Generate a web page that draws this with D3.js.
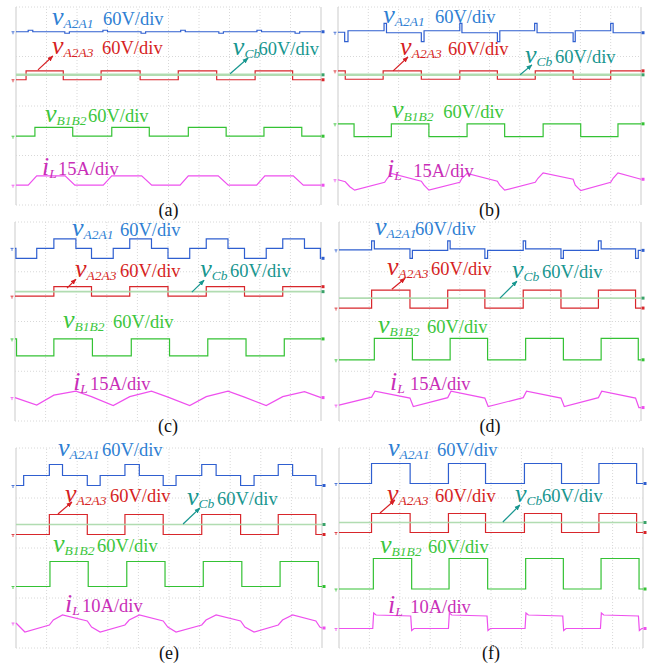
<!DOCTYPE html>
<html lang="en">
<head>
<meta charset="UTF-8">
<title>Waveforms</title>
<style>
  body { margin: 0; background: #fff; }
</style>
</head>
<body>
<script src="https://d3js.org/d3.v7.min.js"></script>
<script>
// time in divisions (0..10), level in divisions (0 = bottom grid line, 4 = top)

// ---- (a)
var aA2A1 = [[0,3.50],[0.3,3.50],[0.4,3.53],[0.55,3.50],[1.5,3.50],[1.6,3.47],[1.75,3.50],[2.75,3.50],[2.85,3.53],[3.0,3.50],[4.0,3.50],[4.1,3.47],[4.25,3.50],[5.3,3.50],[5.4,3.53],[5.55,3.50],[6.55,3.50],[6.65,3.47],[6.8,3.50],[7.8,3.50],[7.9,3.53],[8.05,3.50],[9.05,3.50],[9.15,3.47],[9.3,3.50],[10,3.50]];
var aA2A3 = [[0,2.53],[0.33,2.71],[1.55,2.53],[2.79,2.71],[4.07,2.53],[5.32,2.71],[6.58,2.53],[7.84,2.71],[9.07,2.53],[10,2.53]];
var aCb = [[0,2.63],[10,2.63]];
var aB1B2 = [[0,1.39],[0.62,1.57],[1.86,1.39],[3.14,1.57],[4.37,1.39],[5.65,1.57],[6.89,1.39],[8.13,1.57],[9.37,1.39],[10,1.39]];
var aIL = [[0,0.40],[0.40,0.40],[0.68,0.59],[1.61,0.59],[1.93,0.40],[2.86,0.40],[3.14,0.59],[4.12,0.59],[4.45,0.40],[5.38,0.40],[5.65,0.59],[6.63,0.59],[6.96,0.40],[7.89,0.40],[8.16,0.59],[9.09,0.59],[9.42,0.40],[10,0.40]];

// ---- (b)
var bA2A1 = [[0,3.49],[0.22,3.30],[0.33,3.52],[1.52,3.67],[1.60,3.48],[2.75,3.30],[2.84,3.52],[4.02,3.67],[4.09,3.48],[5.26,3.30],[5.34,3.52],[6.49,3.67],[6.57,3.48],[7.76,3.30],[7.83,3.52],[9.00,3.67],[9.08,3.48],[10,3.48]];
var bA2A3 = [[0,2.71],[0.24,2.54],[1.49,2.71],[2.75,2.54],[4.02,2.71],[5.26,2.54],[6.51,2.71],[7.76,2.54],[9.00,2.71],[10,2.71]];
var bCb = [[0,2.63],[10,2.63]];
var bB1B2 = [[0,1.64],[0.53,1.38],[1.76,1.64],[3.00,1.38],[4.26,1.64],[5.50,1.38],[6.77,1.64],[8.01,1.38],[9.24,1.64],[10,1.64]];
var bIL = [[0,0.51],[0.24,0.47],[0.39,0.37],[0.55,0.30],[1.54,0.46],[1.63,0.54],[1.76,0.64],[2.75,0.48],[2.84,0.40],[3.00,0.30],[4.02,0.46],[4.09,0.54],[4.26,0.64],[5.26,0.48],[5.34,0.40],[5.50,0.30],[6.51,0.46],[6.60,0.54],[6.77,0.65],[7.76,0.52],[7.83,0.40],[8.01,0.29],[9.00,0.46],[9.08,0.54],[9.24,0.65],[10,0.52]];

// ---- (c)
var cA2A1 = [[0,3.47],[0.03,3.27],[0.71,3.47],[1.27,3.66],[1.99,3.47],[2.50,3.27],[3.21,3.47],[3.75,3.66],[4.46,3.47],[5.00,3.27],[5.71,3.47],[6.25,3.66],[6.96,3.47],[7.50,3.27],[8.21,3.47],[8.75,3.66],[9.46,3.47],[9.98,3.27],[10,3.27]];
var cA2A3 = [[0,2.51],[1.27,2.70],[2.50,2.51],[3.75,2.70],[5.00,2.51],[6.25,2.70],[7.50,2.51],[8.75,2.70],[10,2.70]];
var cCb = [[0,2.60],[10,2.60]];
var cB1B2 = [[0,1.65],[0.05,1.31],[1.27,1.65],[2.53,1.31],[3.80,1.65],[5.05,1.31],[6.30,1.65],[7.55,1.31],[8.80,1.65],[10,1.65]];
var cIL = [[0,0.47],[0.71,0.32],[1.27,0.52],[1.99,0.60],[2.50,0.49],[3.21,0.31],[3.75,0.49],[4.46,0.60],[5.00,0.48],[5.71,0.31],[6.25,0.49],[6.96,0.60],[7.50,0.48],[8.21,0.31],[8.75,0.49],[9.46,0.59],[10,0.47]];

// ---- (d)
var dA2A1 = [[0,3.44],[1.08,3.62],[1.17,3.46],[2.35,3.27],[2.43,3.43],[3.60,3.62],[3.68,3.46],[4.83,3.27],[4.92,3.43],[6.10,3.62],[6.18,3.46],[7.35,3.27],[7.43,3.43],[8.59,3.62],[8.68,3.46],[9.82,3.27],[9.91,3.43],[10,3.43]];
var dA2A3 = [[0,2.27],[1.08,2.63],[2.35,2.27],[3.60,2.63],[4.83,2.27],[6.10,2.63],[7.35,2.27],[8.59,2.63],[9.82,2.27],[10,2.27]];
var dCb = [[0,2.47],[10,2.47]];
var dB1B2 = [[0,1.23],[1.17,1.66],[2.43,1.23],[3.68,1.66],[4.92,1.23],[6.18,1.66],[7.43,1.23],[8.68,1.66],[9.91,1.23],[10,1.23]];
var dIL = [[0,0.32],[1.08,0.48],[1.19,0.60],[2.35,0.46],[2.46,0.29],[3.60,0.47],[3.71,0.60],[4.83,0.46],[4.94,0.29],[6.10,0.47],[6.21,0.60],[7.35,0.46],[7.46,0.29],[8.59,0.47],[8.70,0.60],[9.82,0.46],[9.93,0.27],[10,0.27]];

// ---- (e)
var eA2A1 = [[0,3.25],[0.25,3.45],[1.09,3.67],[1.52,3.45],[2.33,3.25],[2.75,3.45],[3.56,3.67],[4.03,3.45],[4.81,3.25],[5.23,3.45],[6.07,3.67],[6.54,3.45],[7.34,3.25],[7.78,3.45],[8.57,3.67],[9.04,3.45],[9.80,3.25],[10,3.25]];
var eA2A3 = [[0,2.27],[1.09,2.67],[2.33,2.27],[3.56,2.67],[4.81,2.27],[6.07,2.67],[7.34,2.27],[8.57,2.67],[9.80,2.27],[10,2.27]];
var eCb = [[0,2.47],[10,2.47]];
var eB1B2 = [[0,1.23],[1.11,1.73],[2.36,1.23],[3.62,1.73],[4.87,1.23],[6.12,1.73],[7.38,1.23],[8.63,1.73],[9.88,1.23],[10,1.23]];
var eIL = [[0,0.50],[0.29,0.32],[1.09,0.46],[1.22,0.56],[1.52,0.66],[2.33,0.54],[2.47,0.42],[2.75,0.32],[3.56,0.46],[3.70,0.56],[4.03,0.66],[4.81,0.54],[4.96,0.42],[5.23,0.32],[6.07,0.46],[6.21,0.56],[6.54,0.66],[7.34,0.54],[7.48,0.42],[7.78,0.32],[8.57,0.46],[8.71,0.56],[9.04,0.66],[9.80,0.54],[9.93,0.42],[10,0.40]];

// ---- (f)
var fA2A1 = [[0,3.29],[1.07,3.69],[2.34,3.29],[3.60,3.69],[4.82,3.29],[6.10,3.69],[7.32,3.29],[8.55,3.69],[9.79,3.29],[10,3.29]];
var fA2A3 = [[0,2.31],[1.07,2.69],[2.34,2.31],[3.60,2.69],[4.82,2.31],[6.10,2.69],[7.32,2.31],[8.55,2.69],[9.79,2.31],[10,2.31]];
var fCb = [[0,2.51],[10,2.51]];
var fB1B2 = [[0,1.18],[1.13,1.79],[2.39,1.18],[3.62,1.79],[4.89,1.18],[6.14,1.79],[7.38,1.18],[8.62,1.79],[9.87,1.18],[10,1.18]];
var fIL = [[0,0.39],[1.11,0.39],[1.14,0.70],[1.22,0.66],[2.36,0.64],[2.39,0.35],[2.47,0.39],[3.60,0.39],[3.63,0.70],[3.71,0.66],[4.87,0.64],[4.90,0.35],[4.98,0.39],[6.12,0.39],[6.15,0.70],[6.23,0.66],[7.36,0.64],[7.39,0.35],[7.47,0.39],[8.60,0.39],[8.63,0.70],[8.71,0.66],[9.85,0.64],[9.88,0.35],[9.96,0.39],[10,0.39]];

var captions = ['(a)', '(b)', '(c)', '(d)', '(e)', '(f)'];
var scalesIL = ['15A/div', '15A/div', '15A/div', '15A/div', '10A/div', '10A/div'];

// ---- layout (label anchors in division units)
var notes = [
  { lab: [[1.18,3.64,2.85],[1.18,3.05,2.82],[7.11,3.03,7.95],[0.95,1.68,2.36],[0.85,0.61,1.38]],
    arr: [[0.72,2.73,1.21,3.01],[7.02,2.65,7.61,2.97]] },
  { lab: [[1.49,3.67,3.20],[2.05,3.03,3.63],[6.17,2.87,7.16],[1.78,1.76,3.47],[1.62,0.57,2.48]],
    arr: [[1.82,2.71,2.31,2.99],[6.01,2.63,6.40,2.83]] },
  { lab: [[1.86,3.72,3.43],[1.96,2.89,3.43],[6.05,2.89,7.03],[1.57,1.87,3.20],[1.90,0.62,2.45]],
    arr: [[1.70,2.67,1.99,2.85],[5.78,2.59,6.18,2.83]] },
  { lab: [[1.19,3.74,2.52],[1.59,2.93,3.05],[5.73,2.87,6.72],[1.29,1.77,2.91],[1.69,0.62,2.35]],
    arr: [[1.75,2.65,2.19,2.87],[5.33,2.47,5.89,2.81]] },
  { lab: [[1.37,3.84,2.81],[1.60,2.92,3.07],[5.59,2.86,6.57],[1.21,1.92,2.65],[1.60,0.72,2.16]],
    arr: [[1.37,2.68,1.83,2.92],[5.46,2.48,6.01,2.80]] },
  { lab: [[1.61,3.84,3.22],[1.58,2.92,3.16],[5.79,2.92,6.68],[1.35,1.90,2.93],[1.61,0.70,2.34]],
    arr: [[1.35,2.70,1.84,2.96],[5.39,2.52,5.95,2.86]] }
];

var boxes = [
  [16, 321, 7, 205], [338, 641, 7, 205],
  [15, 321, 222, 421], [339, 641, 222, 421],
  [16, 322, 448, 648], [339, 643, 448, 648]
];

var traces = [
  [aA2A1, aA2A3, aCb, aB1B2, aIL],
  [bA2A1, bA2A3, bCb, bB1B2, bIL],
  [cA2A1, cA2A3, cCb, cB1B2, cIL],
  [dA2A1, dA2A3, dCb, dB1B2, dIL],
  [eA2A1, eA2A3, eCb, eB1B2, eIL],
  [fA2A1, fA2A3, fCb, fB1B2, fIL]
];

var serif = 'Liberation Serif, Times New Roman, DejaVu Serif, serif';
var lineCol = ['#2f5fd0', '#d8262b', '#a8d8a8', '#34c234', '#ee50ee'];
var textCol = ['#2f7fd3', '#d61f24', '#17968f', '#3cc63c', '#c92fb8'];
var stepped = [true, true, false, true, false];

var svg = d3.select('body').append('svg').attr('width', 654).attr('height', 664)
  .style('display', 'block');

var defs = svg.append('defs');
['red', 'teal'].forEach(function (k, i) {
  defs.append('marker').attr('id', 'arr-' + k)
    .attr('viewBox', '0 0 10 10').attr('refX', 9).attr('refY', 5)
    .attr('markerWidth', 5).attr('markerHeight', 5).attr('orient', 'auto')
    .append('path').attr('d', 'M0,1 L10,5 L0,9 Z')
    .attr('fill', i == 0 ? textCol[1] : textCol[2]);
});

boxes.forEach(function (b, p) {
  var x = d3.scaleLinear().domain([0, 10]).range([b[0], b[1]]);
  var y = d3.scaleLinear().domain([0, 4]).range([b[3], b[2]]);
  var g = svg.append('g');

  // grid
  g.selectAll('.vg').data(x.ticks(10)).enter().append('line')
    .attr('x1', function (d) { return x(d); }).attr('x2', function (d) { return x(d); })
    .attr('y1', y(0)).attr('y2', y(4))
    .attr('stroke', function (d) { return (d == 0 || d == 10) ? '#d4d4d4' : '#d8d8d8'; })
    .attr('stroke-dasharray', function (d) { return (d == 0 || d == 10) ? null : '1,2'; })
    .attr('stroke-width', function (d) { return (d == 0 || d == 10) ? 1.2 : 1; });
  g.selectAll('.hg').data(y.ticks(4)).enter().append('line')
    .attr('x1', x(0)).attr('x2', x(10))
    .attr('y1', function (d) { return y(d); }).attr('y2', function (d) { return y(d); })
    .attr('stroke', '#d8d8d8').attr('stroke-dasharray', '1,2');

  // traces
  traces[p].forEach(function (tr, k) {
    var line = d3.line()
      .x(function (d) { return x(d[0]); })
      .y(function (d) { return y(d[1]); })
      .curve(stepped[k] ? d3.curveStepAfter : d3.curveLinear);
    g.append('path').attr('d', line(tr))
      .attr('fill', 'none')
      .attr('stroke', lineCol[k])
      .attr('stroke-width', k == 2 ? (p < 2 ? 2.6 : 1.6) : 1.2)
      .attr('stroke-opacity', k == 2 ? 0.9 : 1);
    var last = tr[tr.length - 1];
    g.append('rect').attr('x', x(last[0]) + 0.5).attr('y', y(last[1]) - 1.5)
      .attr('width', 3).attr('height', 3)
      .attr('fill', k == 2 ? '#3aa36a' : lineCol[k]);
    // channel ground marker at the left edge
    if (k != 2) {
      var y0 = y(tr[0][1]);
      g.append('path')
        .attr('d', 'M' + (x(0) - 4.5) + ',' + y0 + 'h3 M' + (x(0) - 3) + ',' + y0 + 'v2.5')
        .attr('stroke', lineCol[k]).attr('stroke-width', 1).attr('fill', 'none')
        .attr('opacity', 0.8);
    }
  });

  // arrows
  notes[p].arr.forEach(function (a, i) {
    g.append('line')
      .attr('x1', x(a[0])).attr('y1', y(a[1]))
      .attr('x2', x(a[2])).attr('y2', y(a[3]))
      .attr('stroke', i == 0 ? textCol[1] : textCol[2]).attr('stroke-width', 1.2)
      .attr('marker-end', 'url(#arr-' + (i == 0 ? 'red' : 'teal') + ')');
  });

  // labels
  var subs = ['A2A1', 'A2A3', 'Cb', 'B1B2', 'L'];
  notes[p].lab.forEach(function (l, k) {
    var t = g.append('text').attr('x', x(l[0])).attr('y', y(l[1]))
      .attr('font-family', serif)
      .attr('fill', textCol[k]).attr('font-style', 'italic');
    t.append('tspan').attr('font-size', 26).text(k == 4 ? 'i' : 'v');
    t.append('tspan').attr('font-size', 13.5).attr('dy', 3).text(subs[k]);
    g.append('text').attr('x', x(l[2])).attr('y', y(l[1]))
      .attr('font-family', serif)
      .attr('fill', textCol[k]).attr('font-size', 18.5)
      .text(k == 4 ? scalesIL[p] : '60V/div');
  });

  // caption
  svg.append('text').attr('x', (b[0] + b[1]) / 2).attr('y', b[3] + 11)
    .attr('font-family', serif)
    .attr('text-anchor', 'middle').attr('font-size', 18).attr('fill', '#111')
    .text(captions[p]);
});
</script>
</body>
</html>
